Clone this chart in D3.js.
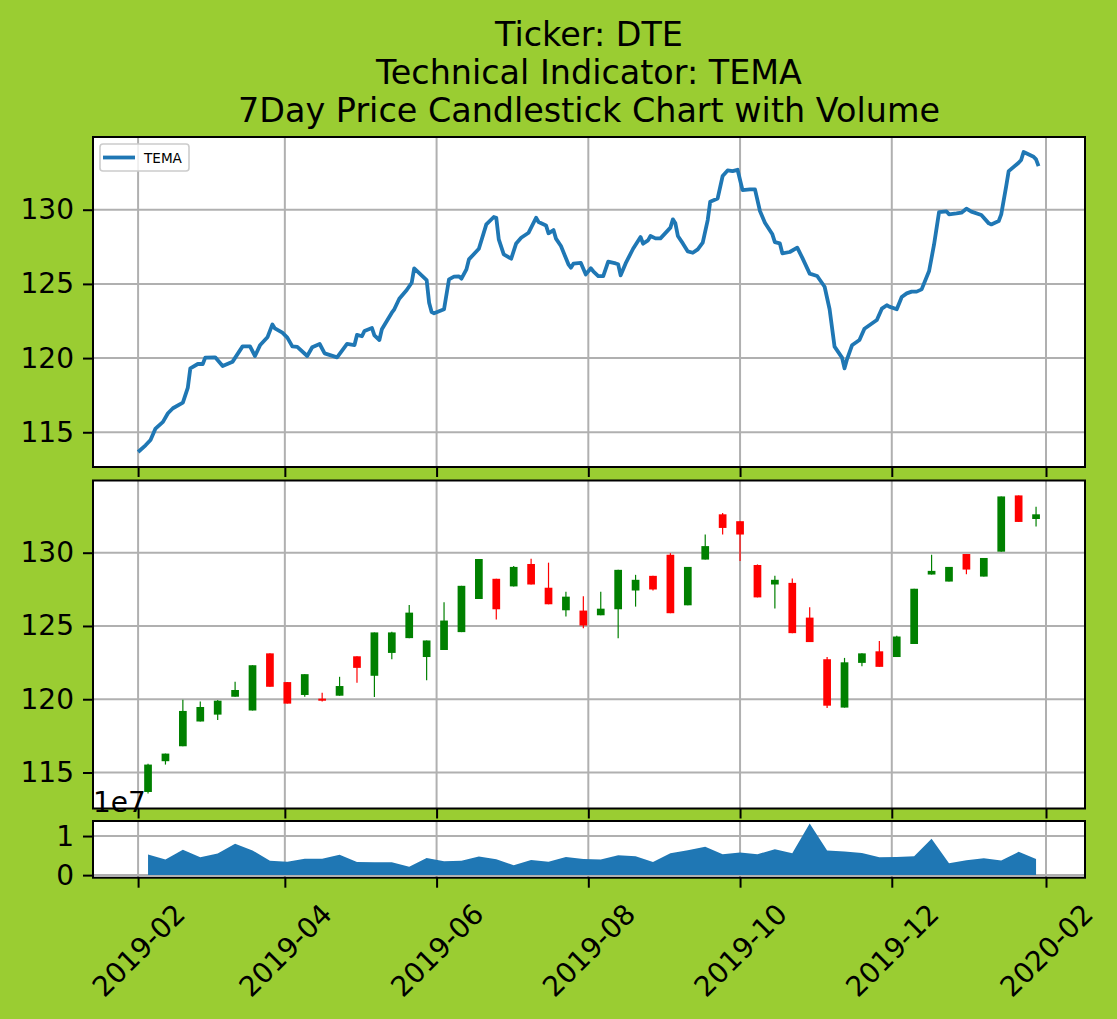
<!DOCTYPE html>
<html>
<head>
<meta charset="utf-8">
<title>DTE - TEMA - 7Day Candlestick</title>
<script src="https://cdn.jsdelivr.net/npm/d3@7"></script>
<style>
  html, body { margin: 0; padding: 0; background: #9acd32; }
  svg { display: block; font-family: "DejaVu Sans", sans-serif; }
</style>
</head>
<body>
<div id="chart"></div>
<script>

// Title.
var titleLines = [
  'Ticker: DTE',
  'Technical Indicator: TEMA',
  '7Day Price Candlestick Chart with Volume'
];

// TEMA line (daily, read at its turning points).
var temaDates = [
  '2019-02-01','2019-02-04','2019-02-06','2019-02-08','2019-02-11','2019-02-13','2019-02-15','2019-02-19',
  '2019-02-21','2019-02-22','2019-02-25','2019-02-27','2019-02-28','2019-03-04','2019-03-07','2019-03-11',
  '2019-03-15','2019-03-18','2019-03-20','2019-03-22','2019-03-25','2019-03-27','2019-03-28','2019-03-31',
  '2019-04-02','2019-04-04','2019-04-06','2019-04-10','2019-04-12','2019-04-15','2019-04-17','2019-04-22',
  '2019-04-26','2019-04-29','2019-04-30','2019-05-02','2019-05-03','2019-05-06','2019-05-07','2019-05-09',
  '2019-05-10','2019-05-14','2019-05-15','2019-05-17','2019-05-20','2019-05-22','2019-05-23','2019-05-28',
  '2019-05-29','2019-05-30','2019-05-31','2019-06-04','2019-06-06','2019-06-08','2019-06-10','2019-06-11',
  '2019-06-13','2019-06-14','2019-06-18','2019-06-21','2019-06-24','2019-06-25','2019-06-26','2019-06-28',
  '2019-07-01','2019-07-03','2019-07-05','2019-07-08','2019-07-11','2019-07-12','2019-07-15','2019-07-16',
  '2019-07-18','2019-07-19','2019-07-21','2019-07-24','2019-07-25','2019-07-26','2019-07-29','2019-07-31',
  '2019-08-02','2019-08-03','2019-08-05','2019-08-07','2019-08-09','2019-08-12','2019-08-13','2019-08-14',
  '2019-08-16','2019-08-19','2019-08-22','2019-08-23','2019-08-25','2019-08-26','2019-08-28','2019-08-30',
  '2019-09-02','2019-09-03','2019-09-04','2019-09-05','2019-09-06','2019-09-08','2019-09-10','2019-09-12',
  '2019-09-14','2019-09-16','2019-09-18','2019-09-19','2019-09-22','2019-09-24','2019-09-26','2019-09-28',
  '2019-09-30','2019-10-02','2019-10-05','2019-10-07','2019-10-09','2019-10-11','2019-10-14','2019-10-15',
  '2019-10-17','2019-10-18','2019-10-21','2019-10-24','2019-10-26','2019-10-29','2019-11-01','2019-11-04',
  '2019-11-06','2019-11-08','2019-11-11','2019-11-12','2019-11-13','2019-11-15','2019-11-18','2019-11-20',
  '2019-11-22','2019-11-25','2019-11-27','2019-11-29','2019-11-30','2019-12-03','2019-12-05','2019-12-07',
  '2019-12-09','2019-12-11','2019-12-13','2019-12-16','2019-12-18','2019-12-20','2019-12-23','2019-12-24',
  '2019-12-27','2019-12-29','2019-12-31','2020-01-02','2020-01-06','2020-01-09','2020-01-10','2020-01-13',
  '2020-01-14','2020-01-16','2020-01-17','2020-01-21','2020-01-22','2020-01-23','2020-01-27','2020-01-28',
  '2020-01-29'
];
var temaValues = [
  113.67,114.12,114.48,115.25,115.70,116.28,116.62,117.00,
  118.01,119.31,119.60,119.60,120.03,120.05,119.47,119.76,
  120.79,120.79,120.14,120.86,121.40,122.27,122.00,121.71,
  121.38,120.79,120.75,120.14,120.73,120.95,120.32,120.05,
  120.95,120.88,121.56,121.47,121.83,122.03,121.53,121.22,
  121.94,123.06,123.29,124.00,124.59,125.08,126.05,125.26,
  123.73,123.10,123.02,123.29,125.31,125.49,125.51,125.35,
  125.98,126.65,127.37,129.01,129.51,129.46,128.00,126.99,
  126.70,127.73,128.11,128.45,129.46,129.17,128.94,128.41,
  128.63,128.05,127.55,126.32,126.09,126.36,126.41,125.64,
  126.05,125.85,125.53,125.53,126.50,126.38,126.32,125.58,
  126.38,127.37,128.16,127.71,127.93,128.23,128.07,128.07,
  128.61,128.79,129.35,129.08,128.23,127.73,127.19,127.10,
  127.33,127.78,129.30,130.54,130.76,132.27,132.65,132.60,
  132.69,131.32,131.37,131.37,129.91,129.12,128.34,127.82,
  127.73,127.06,127.15,127.44,126.77,125.69,125.53,124.81,
  123.29,120.77,120.03,119.31,119.92,120.86,121.22,121.98,
  122.21,122.57,123.33,123.56,123.47,123.29,124.12,124.36,
  124.48,124.48,124.63,125.87,127.66,129.84,129.89,129.69,
  129.75,129.80,130.07,129.87,129.64,129.08,129.01,129.24,
  129.69,131.59,132.60,133.17,133.35,133.89,133.57,133.39,
  132.94
];

// Weekly candles.
var candleDates = [
  '2019-02-05','2019-02-12','2019-02-19','2019-02-26','2019-03-05','2019-03-12','2019-03-19','2019-03-26',
  '2019-04-02','2019-04-09','2019-04-16','2019-04-23','2019-04-30','2019-05-07','2019-05-14','2019-05-21',
  '2019-05-28','2019-06-04','2019-06-11','2019-06-18','2019-06-25','2019-07-02','2019-07-09','2019-07-16',
  '2019-07-23','2019-07-30','2019-08-06','2019-08-13','2019-08-20','2019-08-27','2019-09-03','2019-09-10',
  '2019-09-17','2019-09-24','2019-10-01','2019-10-08','2019-10-15','2019-10-22','2019-10-29','2019-11-05',
  '2019-11-12','2019-11-19','2019-11-26','2019-12-03','2019-12-10','2019-12-17','2019-12-24','2019-12-31',
  '2020-01-07','2020-01-14','2020-01-21','2020-01-28'
];
var openPrices = [
  113.67,115.77,116.79,118.48,118.95,120.17,119.23,123.13,121.17,120.29,120.04,120.24,122.93,
  121.60,123.16,124.17,122.88,123.36,124.58,126.84,128.22,127.70,129.23,127.61,126.07,126.05,
  125.73,126.14,127.42,128.42,129.86,126.41,129.53,132.62,132.15,129.16,127.83,127.94,125.57,
  122.73,119.43,122.48,123.27,122.88,123.77,128.51,128.03,129.91,128.37,130.07,133.91,132.30
];
var highPrices = [
  115.60,116.29,119.97,119.84,119.95,121.19,122.32,123.13,121.17,121.71,120.45,121.53,122.93,
  124.56,124.60,126.43,124.01,126.61,127.74,129.57,128.22,129.10,129.59,129.32,127.33,127.02,
  127.33,128.83,128.49,128.42,129.97,129.03,131.24,132.71,132.15,129.20,128.42,128.24,126.27,
  122.88,122.82,123.13,123.97,124.33,127.54,129.86,129.03,129.91,129.64,133.84,133.91,133.14
];
var lowPrices = [
  113.56,115.54,116.79,118.48,118.59,120.17,119.23,120.85,119.70,120.17,119.84,120.24,121.12,
  120.15,122.73,124.17,121.30,123.36,124.58,126.84,125.44,127.70,127.83,126.48,125.64,124.85,
  125.73,124.17,126.32,127.42,125.87,126.41,129.53,131.24,129.44,126.95,126.20,124.51,123.90,
  119.40,119.43,122.25,122.21,122.88,123.77,128.51,128.03,128.53,128.37,130.07,132.10,131.78
];
var closePrices = [
  115.54,116.29,119.20,119.47,119.90,120.63,122.32,120.85,119.70,121.71,119.90,120.90,122.14,
  124.56,124.56,125.91,124.01,125.37,127.74,129.57,126.14,129.03,127.83,126.48,127.00,125.03,
  126.18,128.83,128.15,127.49,125.87,129.03,130.45,131.69,131.24,126.95,128.15,124.51,123.90,
  119.56,122.52,123.13,122.21,124.28,127.54,128.76,129.03,128.85,129.64,133.84,132.10,132.62
];
var volumes = [
  5.26e6,3.97e6,6.47e6,4.57e6,5.52e6,8.00e6,6.30e6,3.70e6,3.45e6,4.20e6,4.20e6,5.20e6,3.36e6,
  3.30e6,3.30e6,2.16e6,4.40e6,3.53e6,3.70e6,4.74e6,4.05e6,2.50e6,3.88e6,3.45e6,4.66e6,4.14e6,
  3.97e6,5.09e6,4.83e6,3.36e6,5.60e6,6.38e6,7.24e6,5.34e6,5.78e6,5.34e6,6.64e6,5.60e6,13.19e6,
  6.29e6,6.03e6,5.69e6,4.57e6,4.66e6,4.83e6,9.31e6,3.02e6,3.79e6,4.31e6,3.71e6,5.95e6,4.14e6
];

// Ticks.
var dateTicks = ['2019-02','2019-04','2019-06','2019-08','2019-10','2019-12','2020-02'];
var priceTicks = [115, 120, 125, 130];
var volumeTicks = [0, 1e7];

(function(d3) {

  var W = 1117, H = 1019,
    left = 93, right = 1085,
    parseDay = d3.timeParse('%Y-%m-%d'),
    parseMonth = d3.timeParse('%Y-%m'),
    halfBody = 1.55 * 864e5,
    font = '"DejaVu Sans", sans-serif';

  var tema = temaDates.map(function(d, i) {
    return { date: parseDay(d), value: temaValues[i] };
  });

  var candles = candleDates.map(function(d, i) {
    return {
      date: parseDay(d), open: openPrices[i], high: highPrices[i],
      low: lowPrices[i], close: closePrices[i], volume: volumes[i]
    };
  });

  var ticks = dateTicks.map(parseMonth);

  // 5% margins, like matplotlib autoscale.
  var padded = function(lo, hi) {
    var p = (hi - lo) * 0.05;
    return [lo - p, hi + p];
  };

  // Shared time axis.
  var tSpan = padded(
    Math.min(+tema[0].date, candles[0].date - halfBody),
    Math.max(+tema[tema.length - 1].date, +candles[candles.length - 1].date + halfBody)
  );

  var x = d3.scaleTime()
            .domain([new Date(tSpan[0]), new Date(tSpan[1])])
            .range([left, right]);

  var svg = d3.select('#chart').append('svg')
              .attr('width', W)
              .attr('height', H)
              .attr('font-family', font);

  svg.append('rect')
     .attr('width', W)
     .attr('height', H)
     .attr('fill', '#9acd32');

  // Title.
  svg.append('g')
     .selectAll('text')
     .data(titleLines)
     .join('text')
     .attr('x', (left + right) / 2)
     .attr('y', function(d, i) { return 46 + i * 37.8; })
     .attr('text-anchor', 'middle')
     .attr('font-size', 33.4)
     .attr('fill', '#000')
     .text(function(d) { return d; });

  // One axes box: background, grid, data layer, frame, ticks.
  var panel = function(top, bottom, yDomain, yTicks, yFmt, xLabels) {

    var y = d3.scaleLinear().domain(yDomain).range([bottom, top]);
    var g = svg.append('g');

    g.append('rect')
     .attr('x', left).attr('y', top)
     .attr('width', right - left).attr('height', bottom - top)
     .attr('fill', '#fff');

    var grid = g.append('g')
                .attr('stroke', '#b0b0b0')
                .attr('stroke-width', 2);

    grid.selectAll('.gx')
        .data(ticks)
        .join('line')
        .attr('x1', x).attr('x2', x)
        .attr('y1', top).attr('y2', bottom);

    grid.selectAll('.gy')
        .data(yTicks)
        .join('line')
        .attr('x1', left).attr('x2', right)
        .attr('y1', y).attr('y2', y);

    var plot = g.append('g');

    g.append('rect')
     .attr('x', left).attr('y', top)
     .attr('width', right - left).attr('height', bottom - top)
     .attr('fill', 'none')
     .attr('stroke', '#000')
     .attr('stroke-width', 2);

    var ya = g.append('g')
              .attr('transform', 'translate(' + left + ',0)')
              .call(d3.axisLeft(y).tickValues(yTicks).tickSize(10).tickPadding(9).tickFormat(yFmt));

    var xa = g.append('g')
              .attr('transform', 'translate(0,' + bottom + ')')
              .call(d3.axisBottom(x).tickValues(ticks).tickSize(10).tickPadding(9)
                      .tickFormat(xLabels ? d3.timeFormat('%Y-%m') : function() { return ''; }));

    [ya, xa].forEach(function(a) {
      a.attr('font-size', 28).attr('font-family', font);
      a.select('.domain').remove();
      a.selectAll('.tick line').attr('stroke', '#000').attr('stroke-width', 2);
      a.selectAll('.tick text').attr('fill', '#000');
    });

    // Rotated date labels, centred under their tick.
    if (xLabels) {
      xa.selectAll('.tick text').each(function() {
        var box = (this.getComputedTextLength() + 32.6) * Math.SQRT1_2;
        d3.select(this)
          .attr('x', 0).attr('y', 0)
          .attr('dy', '0.35em')
          .attr('text-anchor', 'middle')
          .attr('transform', 'translate(0,' + (19.7 + box / 2) + ') rotate(-45)');
      });
    }

    return { y: y, plot: plot };
  };

  // Panels.
  var top = panel(137, 467, padded(d3.min(temaValues), d3.max(temaValues)), priceTicks, d3.format('d'), false);
  var mid = panel(480.5, 808.5, padded(d3.min(lowPrices), d3.max(highPrices)), priceTicks, d3.format('d'), false);
  var bot = panel(821, 877.7, padded(0, d3.max(volumes)), volumeTicks, function(v) { return v / 1e7; }, true);

  // TEMA line.
  var temaLine = d3.line()
                   .x(function(d) { return x(d.date); })
                   .y(function(d) { return top.y(d.value); });

  top.plot.append('path')
      .attr('d', temaLine(tema))
      .attr('fill', 'none')
      .attr('stroke', '#1f77b4')
      .attr('stroke-width', 3.8)
      .attr('stroke-linejoin', 'round');

  // Legend.
  var legend = top.plot.append('g');
  legend.append('rect')
        .attr('x', 100).attr('y', 144)
        .attr('width', 89).attr('height', 27)
        .attr('rx', 3)
        .attr('fill', '#fff').attr('fill-opacity', 0.8)
        .attr('stroke', '#cccccc').attr('stroke-width', 1.6);
  legend.append('line')
        .attr('x1', 103).attr('x2', 135)
        .attr('y1', 157.5).attr('y2', 157.5)
        .attr('stroke', '#1f77b4').attr('stroke-width', 3.8);
  legend.append('text')
        .attr('x', 144).attr('y', 162.5)
        .attr('font-size', 13.6)
        .attr('fill', '#000')
        .text('TEMA');

  // Candles.
  var colour = function(d) { return d.close >= d.open ? '#008000' : '#ff0000'; };

  var candle = mid.plot.selectAll('g')
                  .data(candles)
                  .join('g');

  candle.append('line')
        .attr('x1', function(d) { return x(d.date); })
        .attr('x2', function(d) { return x(d.date); })
        .attr('y1', function(d) { return mid.y(d.high); })
        .attr('y2', function(d) { return mid.y(d.low); })
        .attr('stroke', colour)
        .attr('stroke-width', 1.2);

  candle.append('rect')
        .attr('x', function(d) { return x(new Date(d.date - halfBody)); })
        .attr('width', function(d) { return x(new Date(+d.date + halfBody)) - x(new Date(d.date - halfBody)); })
        .attr('y', function(d) { return mid.y(Math.max(d.open, d.close)); })
        .attr('height', function(d) { return Math.max(1, Math.abs(mid.y(d.open) - mid.y(d.close))); })
        .attr('fill', colour);

  // Volume.
  var volArea = d3.area()
                  .x(function(d) { return x(d.date); })
                  .y0(bot.y(0))
                  .y1(function(d) { return bot.y(d.volume); });

  bot.plot.append('path')
      .attr('d', volArea(candles))
      .attr('fill', '#1f77b4');

  // Offset text for the volume axis.
  svg.append('text')
     .attr('x', 93).attr('y', 812)
     .attr('font-size', 28)
     .attr('fill', '#000')
     .text('1e7');

})(d3);
</script>
</body>
</html>
